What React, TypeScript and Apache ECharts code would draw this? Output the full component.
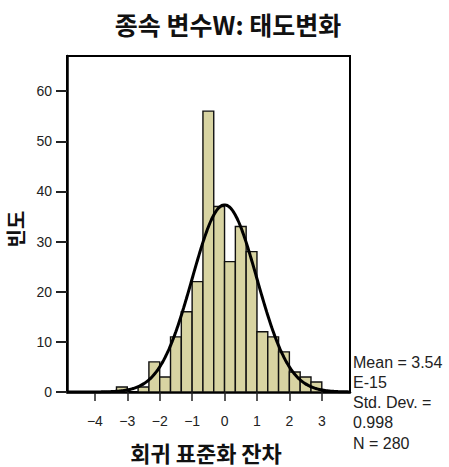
import React, { useEffect, useRef } from "react";
import * as echarts from "echarts";

// Histogram of standardized regression residuals (bin width 1/3)
const binStart = -10 / 3;
const binWidth = 1 / 3;
const counts = [1, 0, 1, 6, 3, 11, 16, 22, 56, 37, 26, 33, 28, 12, 11, 8, 4, 3, 2];

// Summary statistics shown beside the plot
const meanValue = 0; // 3.54E-15
const stdDev = 0.998;
const nTotal = 280;

const xTicks = [-4, -3, -2, -1, 0, 1, 2, 3];
const yTicks = [0, 10, 20, 30, 40, 50, 60];
const xMin = -4.86;
const xMax = 3.87;
const yMax = 67;

const statLines = ["Mean = 3.54", "E-15", "Std. Dev. =", "0.998", "N = 280"];

const titleText = "종속 변수W: 태도변화";
const xName = "회귀 표준화 잔차";
const yName = "빈도";

export default function App() {
  const ref = useRef<HTMLDivElement>(null);

  useEffect(() => {
    if (!ref.current) return;
    const chart = echarts.init(ref.current, undefined, { renderer: "svg" });

    const bars = counts.map((c, i) => [
      binStart + i * binWidth,
      binStart + (i + 1) * binWidth,
      c,
    ]);

    // Normal curve fitted to the residuals, scaled to counts per bin
    const curve: number[][] = [];
    const scale = nTotal * binWidth;
    for (let x = xMin; x <= xMax + 1e-9; x += 0.04) {
      const z = (x - meanValue) / stdDev;
      const pdf = Math.exp(-0.5 * z * z) / (stdDev * Math.sqrt(2 * Math.PI));
      curve.push([x, scale * pdf]);
    }

    const minus = (v: number) => String(v).replace("-", "−");
    const labelFont = "'Liberation Sans', Arial, sans-serif";
    const cjkFont = "'Noto Sans CJK KR', sans-serif";

    chart.setOption({
      animation: false,
      backgroundColor: "#ffffff",
      grid: {
        left: 67,
        top: 56,
        right: 99,
        bottom: 75,
        show: true,
        borderColor: "#000",
        borderWidth: 2,
        backgroundColor: "#ffffff",
      },
      xAxis: {
        type: "value",
        min: xMin,
        max: xMax,
        axisLine: { show: true, onZero: false, lineStyle: { color: "#000", width: 2.5 } },
        axisTick: {
          show: true,
          customValues: xTicks,
          length: 9,
          lineStyle: { color: "#222", width: 1.5 },
        },
        axisLabel: {
          customValues: xTicks,
          formatter: minus,
          color: "#222",
          fontSize: 14,
          fontFamily: labelFont,
          margin: 22,
        },
        splitLine: { show: false },
      },
      yAxis: {
        type: "value",
        min: 0,
        max: yMax,
        axisLine: { show: true, onZero: false, lineStyle: { color: "#000", width: 2.5 } },
        axisTick: {
          show: true,
          inside: false,
          customValues: yTicks,
          length: 11,
          lineStyle: { color: "#222", width: 2 },
        },
        axisLabel: {
          customValues: yTicks,
          color: "#222",
          fontSize: 14,
          fontFamily: labelFont,
          margin: 15,
        },
        splitLine: { show: false },
      },
      series: [
        {
          type: "custom",
          data: bars,
          clip: true,
          renderItem: (_params: any, api: any) => {
            const x0 = api.value(0);
            const x1 = api.value(1);
            const v = api.value(2);
            if (!v) return null;
            const p0 = api.coord([x0, v]);
            const p1 = api.coord([x1, 0]);
            return {
              type: "rect",
              shape: { x: p0[0], y: p0[1], width: p1[0] - p0[0], height: p1[1] - p0[1] },
              style: { fill: "#d8d4a2", stroke: "#111", lineWidth: 1.4 },
            };
          },
          encode: { x: [0, 1], y: 2 },
          z: 2,
        },
        {
          type: "line",
          data: curve,
          showSymbol: false,
          smooth: true,
          clip: true,
          lineStyle: { color: "#000", width: 3 },
          z: 3,
        },
      ],
      graphic: [
        {
          type: "text",
          x: 228,
          y: 24,
          style: {
            text: titleText,
            fontSize: 25,
            fontWeight: "bold",
            fontFamily: cjkFont,
            fill: "#111",
            align: "center",
            verticalAlign: "middle",
          },
        },
        {
          type: "text",
          x: 206,
          y: 452,
          style: {
            text: xName,
            fontSize: 22,
            fontWeight: "bold",
            fontFamily: cjkFont,
            fill: "#111",
            align: "center",
            verticalAlign: "middle",
          },
        },
        {
          type: "text",
          x: 15,
          y: 229,
          rotation: Math.PI / 2,
          style: {
            text: yName,
            fontSize: 20,
            fontWeight: "bold",
            fontFamily: cjkFont,
            fill: "#111",
            align: "center",
            verticalAlign: "middle",
          },
        },
        ...statLines.map((t, i) => ({
          type: "text",
          x: 353,
          y: 362 + i * 20.3,
          style: {
            text: t,
            fontSize: 16,
            fontFamily: labelFont,
            fill: "#222",
            align: "left",
            verticalAlign: "middle",
          },
        })),
      ],
    });

    return () => chart.dispose();
  }, []);

  return (
    <div
      ref={ref}
      style={{ position: "fixed", left: 0, top: 0, width: 449, height: 467 }}
    />
  );
}
